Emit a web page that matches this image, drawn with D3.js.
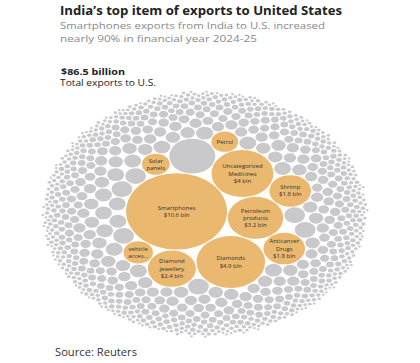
<!DOCTYPE html>
<html>
<head>
<meta charset="utf-8">
<script src="https://cdn.jsdelivr.net/npm/d3@7"></script>
<style>
  body { margin: 0; background: #fff; }
  text { font-family: "Open Sans", sans-serif; }
</style>
</head>
<body>
<script>
// Named export items (US$ bln)
const items = ['Smartphones', 'Diamonds', 'Uncategorized Medicines', 'Petroleum products',
  'Diamond jewellery', 'Shrimp', 'Anticancer Drugs', 'vehicle accessories', 'Solar panels', 'Petrol'];
const values = [10.6, 4.9, 4, 3.2, 2.4, 1.8, 1.8, 0.9, 0.8, 0.75];
const labels = [
  ['Smartphones', '$10.6 bln'],
  ['Diamonds', '$4.9 bln'],
  ['Uncategorized', 'Medicines', '$4 bln'],
  ['Petroleum', 'products', '$3.2 bln'],
  ['Diamond', 'jewellery', '$2.4 bln'],
  ['Shrimp', '$1.8 bln'],
  ['Anticancer', 'Drugs', '$1.8 bln'],
  ['vehicle', 'acces...'],
  ['Solar', 'panels'],
  ['Petrol']
];

// Other (grey) items: approximate size classes read off the picture, and how many of each
const otherSizes  = [2.2, 0.45, 0.3, 0.22, 0.16, 0.12, 0.09, 0.065, 0.045, 0.032, 0.022, 0.014, 0.009];
const otherCounts = [1,   6,    14,  24,   36,   44,   52,   70,    90,    120,   120,   120,   80];

// items laid down first, in this order, so the big ones sit as in the original
// ('other0' is the largest grey circle)
const packOrder = ['Smartphones', 'Petroleum products', 'Uncategorized Medicines', 'Diamonds',
  'other0', 'Diamond jewellery', 'Shrimp', 'Anticancer Drugs', 'Solar panels', 'vehicle accessories'];

let width = 420, height = 363;
let center = { x: 205, y: 214 };
let radius = { x: 165, y: 125 };

let svg = d3.select('body')
  .append('svg')
  .attr('width', width)
  .attr('height', height)
  .style('background', '#fff');

// titles
svg.append('text')
  .attr('x', 60).attr('y', 15)
  .attr('textLength', 282).attr('lengthAdjust', 'spacingAndGlyphs')
  .style('font-size', '12px').style('font-weight', 700).style('fill', '#222')
  .text('India\u2019s top item of exports to United States');

let sub = ['Smartphones exports from India to U.S. increased', 'nearly 90% in financial year 2024-25'];
let subW = [265, 197];
svg.selectAll('.sub')
  .data(sub)
  .enter()
  .append('text')
  .attr('x', 60)
  .attr('y', (d, i) => 29 + i * 12.5)
  .attr('textLength', (d, i) => subW[i]).attr('lengthAdjust', 'spacingAndGlyphs')
  .style('font-size', '9.2px').style('fill', '#8a8a8a')
  .text(d => d);

svg.append('text')
  .attr('x', 61).attr('y', 74.5)
  .attr('textLength', 64).attr('lengthAdjust', 'spacingAndGlyphs')
  .style('font-size', '8.5px').style('font-weight', 700).style('fill', '#222')
  .text('$86.5 billion');

svg.append('text')
  .attr('x', 60).attr('y', 86)
  .attr('textLength', 96).attr('lengthAdjust', 'spacingAndGlyphs')
  .style('font-size', '8.5px').style('fill', '#222')
  .text('Total exports to U.S.');

svg.append('text')
  .attr('x', 55).attr('y', 356)
  .attr('textLength', 82).attr('lengthAdjust', 'spacingAndGlyphs')
  .style('font-size', '10px').style('fill', '#333')
  .text('Source: Reuters');

// build nodes
let nodes = items.map((d, i) => ({ name: d, value: values[i], label: labels[i], hl: true }));
let k = 0;
otherSizes.forEach((v, i) => {
  for (let j = 0; j < otherCounts[i]; j++) nodes.push({ name: 'other' + (k++), value: v, hl: false });
});

let rank = d => {
  let i = packOrder.indexOf(d.data.name);
  return i >= 0 ? 1000 - i : d.value;
};

let root = d3.hierarchy({ children: nodes })
  .sum(d => d.value || 0)
  .sort((a, b) => rank(b) - rank(a));

d3.pack().size([250, 250]).padding(1)(root);

let leaves = root.leaves();
let find = n => leaves.find(d => d.data.name === n);
let sm = find('Smartphones'), pe = find('Petroleum products'), me = find('Uncategorized Medicines');

// orient the layout: Petroleum right of Smartphones, Medicines upper-right
let mirror = ((pe.x - sm.x) * (me.y - sm.y) - (pe.y - sm.y) * (me.x - sm.x)) > 0 ? -1 : 1;
let ang = Math.atan2(mirror * (pe.y - sm.y), pe.x - sm.x);
let turn = Math.atan2(8, 74) - ang;

leaves.forEach(d => {
  let dx = d.x - root.x, dy = mirror * (d.y - root.y);
  d.px = dx * Math.cos(turn) - dy * Math.sin(turn);
  d.py = dx * Math.sin(turn) + dy * Math.cos(turn);
});

let xScale = d3.scaleLinear().domain([-root.r, root.r]).range([center.x - radius.x, center.x + radius.x]);
let yScale = d3.scaleLinear().domain([-root.r, root.r]).range([center.y - radius.y, center.y + radius.y]);
let sx = radius.x / root.r, sy = radius.y / root.r;

svg.append('g')
  .selectAll('ellipse')
  .data(leaves)
  .enter()
  .append('ellipse')
  .attr('cx', d => xScale(d.px))
  .attr('cy', d => yScale(d.py))
  .attr('rx', d => d.r * sx)
  .attr('ry', d => d.r * sy)
  .style('fill', d => d.data.hl ? '#eab86e' : '#c9c9cb');

let lab = svg.append('g')
  .selectAll('text')
  .data(leaves.filter(d => d.data.hl))
  .enter()
  .append('text')
  .attr('x', d => xScale(d.px))
  .attr('y', d => yScale(d.py) - (d.data.label.length - 1) * 3.6 + 2)
  .attr('text-anchor', 'middle')
  .style('font-size', '6px')
  .style('fill', '#333');

lab.selectAll('tspan')
  .data(d => d.data.label)
  .enter()
  .append('tspan')
  .attr('x', function () { return d3.select(this.parentNode).attr('x'); })
  .attr('dy', (d, i) => i ? 7.2 : 0)
  .text(d => d);
</script>
</body>
</html>
